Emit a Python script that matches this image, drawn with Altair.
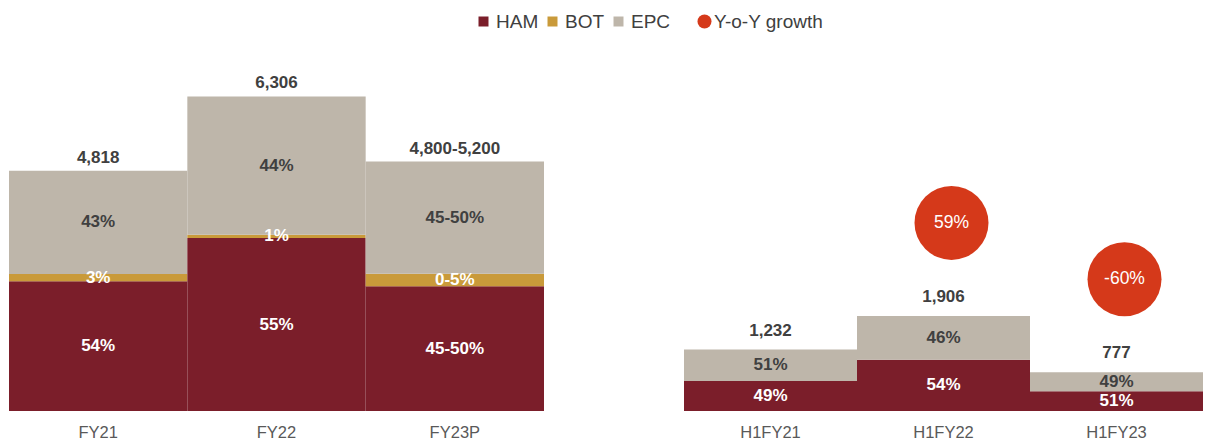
import altair as alt
import pandas as pd

FONT = "Liberation Sans"
DARK = "#404040"

segments = ["HAM", "BOT", "EPC"]
seg_colors = ["#7B1E2A", "#C99A3A", "#BEB6AA"]

fy_periods = ["FY21", "FY22", "FY23P"]
fy_totals = [4818, 6306, 5000]
fy_total_labels = ["4,818", "6,306", "4,800-5,200"]
fy_ham_pct = [54, 55, 50]
fy_bot_pct = [3, 1, 5]
fy_epc_pct = [43, 44, 45]
fy_ham_labels = ["54%", "55%", "45-50%"]
fy_bot_labels = ["3%", "1%", "0-5%"]
fy_epc_labels = ["43%", "44%", "45-50%"]

h1_periods = ["H1FY21", "H1FY22", "H1FY23"]
h1_totals = [1232, 1906, 777]
h1_total_labels = ["1,232", "1,906", "777"]
h1_ham_pct = [49, 54, 51]
h1_epc_pct = [51, 46, 49]
h1_ham_labels = ["49%", "54%", "51%"]
h1_epc_labels = ["51%", "46%", "49%"]
h1_growth_labels = [None, "59%", "-60%"]

YMAX = 8080


def seg_frame(periods, totals, parts):
    rows = []
    for i, p in enumerate(periods):
        for order, (seg, pcts, labels) in enumerate(parts):
            rows.append({"period": p, "seg": seg, "order": order,
                         "value": totals[i] * pcts[i] / 100.0, "label": labels[i]})
    return pd.DataFrame(rows)


fy_seg = seg_frame(fy_periods, fy_totals, [("HAM", fy_ham_pct, fy_ham_labels),
                                           ("BOT", fy_bot_pct, fy_bot_labels),
                                           ("EPC", fy_epc_pct, fy_epc_labels)])
h1_seg = seg_frame(h1_periods, h1_totals, [("HAM", h1_ham_pct, h1_ham_labels),
                                           ("EPC", h1_epc_pct, h1_epc_labels)])
fy_tot = pd.DataFrame({"period": fy_periods, "total": fy_totals, "tlabel": fy_total_labels})
h1_tot = pd.DataFrame({"period": h1_periods, "total": h1_totals, "tlabel": h1_total_labels})
h1_growth = pd.DataFrame({"period": h1_periods, "total": h1_totals, "glabel": h1_growth_labels,
                          "kind": ["Y-o-Y growth"] * 3}).dropna()


def make_x(periods):
    return alt.X("period:N", sort=periods,
                 scale=alt.Scale(domain=periods, paddingInner=0, paddingOuter=0),
                 axis=alt.Axis(title=None, labelAngle=0, domain=False, ticks=False, tickSize=0,
                               labelPadding=13, labelFontSize=16.5, labelColor="#595959",
                               labelFont=FONT, grid=False))


yscale = alt.Scale(domain=[0, YMAX], nice=False, zero=True)


def panel(df_seg, df_tot, periods, total_dy, show_legend):
    x = make_x(periods)
    color = alt.Color("seg:N", scale=alt.Scale(domain=segments, range=seg_colors),
                      legend=alt.Legend(title=None, orient="none", legendX=465, legendY=4,
                                        direction="horizontal", symbolType="square",
                                        symbolSize=100, symbolStrokeWidth=0,
                                        labelFontSize=19, labelColor=DARK, labelFont=FONT,
                                        columnPadding=4, gridAlign="none",
                                        labelOffset=3) if show_legend else None)
    bars = alt.Chart(df_seg).mark_bar().encode(
        x=x,
        y=alt.Y("value:Q", stack="zero", scale=yscale, axis=None),
        color=color,
        order=alt.Order("order:Q"),
    )
    seg_text = alt.Chart(df_seg).transform_stack(
        stack="value", groupby=["period"], sort=[alt.SortField("order", "ascending")],
        as_=["y0", "y1"]
    ).transform_calculate(mid="(datum.y0 + datum.y1) / 2").mark_text(
        font=FONT, fontSize=17, fontWeight="bold", baseline="middle"
    ).encode(
        x=x,
        y=alt.Y("mid:Q", scale=yscale, axis=None),
        text="label:N",
        color=alt.condition(alt.datum.seg == "EPC", alt.value(DARK), alt.value("white")),
    )
    tot_text = alt.Chart(df_tot).mark_text(
        font=FONT, fontSize=17, fontWeight="bold", baseline="middle", dy=total_dy, color=DARK
    ).encode(
        x=x,
        y=alt.Y("total:Q", scale=yscale, axis=None),
        text="tlabel:N",
    )
    return bars, seg_text, tot_text, x


b1, s1, t1, x1 = panel(fy_seg, fy_tot, fy_periods, -13, True)
left = alt.layer(b1, s1, t1).properties(width=535, height=403)

b2, s2, t2, x2 = panel(h1_seg, h1_tot, h1_periods, -19, False)
bubbles = alt.Chart(h1_growth).mark_circle(size=5476, opacity=1, yOffset=-93, xOffset=8).encode(
    x=x2,
    y=alt.Y("total:Q", scale=yscale, axis=None),
    fill=alt.Fill("kind:N", scale=alt.Scale(domain=["Y-o-Y growth"], range=["#D5391A"]),
                  legend=alt.Legend(title=None, orient="none", legendX=686, legendY=4,
                                    symbolType="circle", symbolSize=196, symbolStrokeWidth=0,
                                    labelFontSize=19, labelColor=DARK, labelFont=FONT,
                                    labelOffset=0)),
)
bubble_text = alt.Chart(h1_growth).mark_text(
    font=FONT, fontSize=17.5, color="white", baseline="middle", yOffset=-93, xOffset=8
).encode(
    x=x2,
    y=alt.Y("total:Q", scale=yscale, axis=None),
    text="glabel:N",
)
right = alt.layer(b2, s2, t2, bubbles, bubble_text).properties(width=519, height=403)

chart = alt.hconcat(left, right, spacing=140).resolve_scale(
    color="shared"
).properties(
    padding={"left": 1, "top": 0, "right": 0, "bottom": 0},
    background="white",
).configure_view(strokeWidth=0, stroke=None)

chart.save("out.html", embed_options={"renderer": "svg", "actions": False})
